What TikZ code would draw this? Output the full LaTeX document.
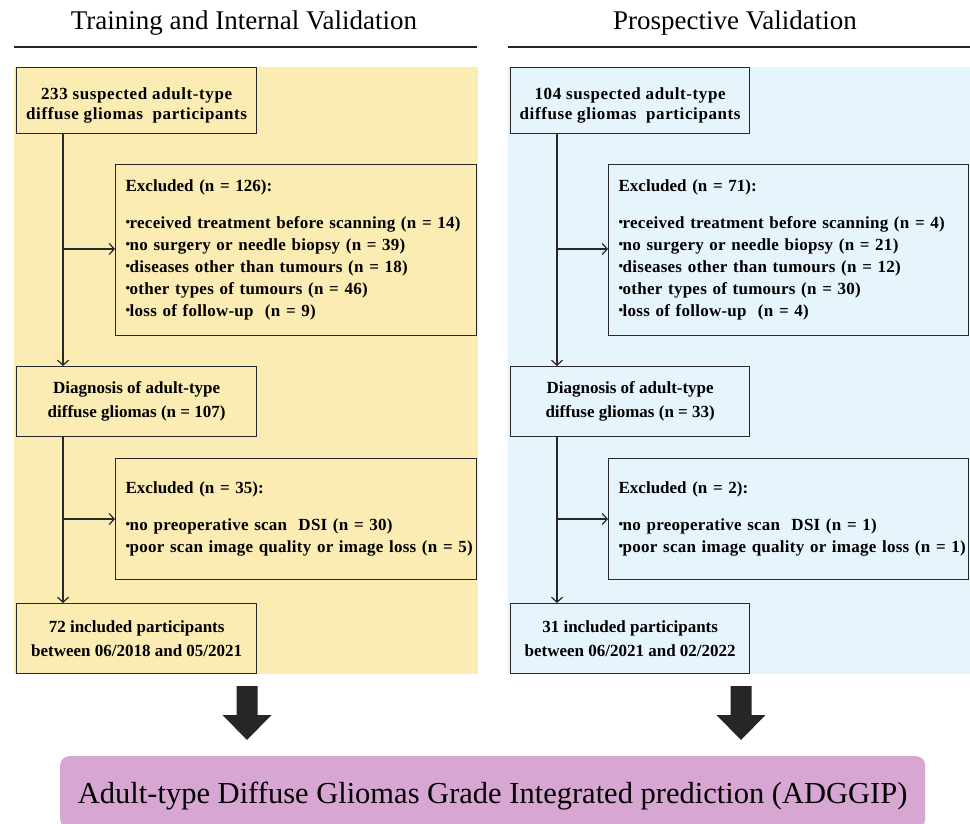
\documentclass[tikz,border=0pt]{standalone}
\usepackage{fontspec}
\setmainfont{Liberation Serif}
\usetikzlibrary{arrows.meta}
\definecolor{ybg}{RGB}{250,236,178}
\definecolor{bbg}{RGB}{230,244,252}
\definecolor{pbg}{RGB}{216,166,210}
\definecolor{edge}{RGB}{40,40,40}
\definecolor{bigarrow}{RGB}{38,38,38}
\newcommand{\bul}{{\raisebox{2.6pt}{\fontsize{13}{13}\selectfont\textbullet}\kern-0.5pt}}
\newcommand{\exline}[1]{\mbox{\addfontfeature{LetterSpace=1.5}\bul #1}}
\begin{document}
\begin{tikzpicture}[x=1pt,y=-1pt,
  title/.style={font=\fontsize{27}{30}\selectfont, inner sep=0pt},
  rule/.style={line width=1.4pt, draw=black!85},
  box/.style={draw=edge, line width=1.3pt, align=center, inner sep=0pt,
    font=\bfseries\fontsize{17}{24}\selectfont, anchor=north west},
  firstbox/.style={box, font=\bfseries\fontsize{17}{20}\selectfont\addfontfeature{LetterSpace=3.5}},
  exbox/.style={draw=edge, line width=1.3pt, align=left, inner xsep=10pt, inner ysep=0pt,
    font=\bfseries\fontsize{17}{22}\selectfont, anchor=north west},
  link/.style={draw=edge, line width=1.2pt},
  arr/.style={link, -{Straight Barb[length=5pt,width=11pt,line width=1.2pt]}},
  fat/.style={draw=none, fill=bigarrow},
  final/.style={fill=pbg, rounded corners=9pt, inner sep=0pt, minimum width=865pt,
    minimum height=72pt, anchor=north west, font=\fontsize{30.5}{34}\selectfont}
]
\useasboundingbox (0,0) rectangle (970,824);
% panels
\fill[ybg] (14,67) rectangle (478,674);
\fill[bbg] (508,67) rectangle (970,674);
% titles
\node[title] (tl) at (244,23) {Training and Internal Validation};
\node[title] (tr) at (735,23) {Prospective Validation};
\draw[rule] (14,47) -- (477,47);
\draw[rule] (508,47) -- (970,47);

% ---------- left column ----------
\node[firstbox, minimum width=240pt, minimum height=66pt] (a1) at (16,67)
  {\rule{0pt}{22pt}233 suspected adult-type\\diffuse gliomas\ \ participants};
\node[exbox, minimum width=361pt, minimum height=171pt, text width=341pt] (e1) at (115,164)
  {Excluded (n = 126):\\[15pt]
   \exline{received treatment before scanning (n = 14)}\\
   \exline{no surgery or needle biopsy (n = 39)}\\
   \exline{diseases other than tumours (n = 18)}\\
   \exline{other types of tumours (n = 46)}\\
   \exline{loss of follow-up\ \ (n = 9)}};
\node[box, minimum width=240pt, minimum height=70pt] (a2) at (16,366)
  {Diagnosis of adult-type\\diffuse gliomas (n = 107)};
\node[exbox, minimum width=361pt, minimum height=121pt, text width=341pt] (e2) at (115,458)
  {Excluded (n = 35):\\[15pt]
   \exline{no preoperative scan\ \ DSI (n = 30)}\\
   \exline{poor scan image quality or image loss (n = 5)}};
\node[box, minimum width=240pt, minimum height=70pt] (a3) at (16,603)
  {72 included participants\\between 06/2018 and 05/2021};
\coordinate (jl1) at (63,249);
\coordinate (jl2) at (63,519);
\draw[arr] (a1.south -| jl1) -- (a2.north -| jl1);
\draw[arr] (jl1) -- (e1.west |- jl1);
\draw[arr] (a2.south -| jl2) -- (a3.north -| jl2);
\draw[arr] (jl2) -- (e2.west |- jl2);

% ---------- right column ----------
\node[firstbox, minimum width=239pt, minimum height=66pt] (b1) at (510,67)
  {\rule{0pt}{22pt}104 suspected adult-type\\diffuse gliomas\ \ participants};
\node[exbox, minimum width=360pt, minimum height=171pt, text width=340pt] (f1) at (608,164)
  {Excluded (n = 71):\\[15pt]
   \exline{received treatment before scanning (n = 4)}\\
   \exline{no surgery or needle biopsy (n = 21)}\\
   \exline{diseases other than tumours (n = 12)}\\
   \exline{other types of tumours (n = 30)}\\
   \exline{loss of follow-up\ \ (n = 4)}};
\node[box, minimum width=239pt, minimum height=70pt] (b2) at (510,366)
  {Diagnosis of adult-type\\diffuse gliomas (n = 33)};
\node[exbox, minimum width=360pt, minimum height=121pt, text width=340pt] (f2) at (608,458)
  {Excluded (n = 2):\\[15pt]
   \exline{no preoperative scan\ \ DSI (n = 1)}\\
   \exline{poor scan image quality or image loss (n = 1)}};
\node[box, minimum width=239pt, minimum height=70pt] (b3) at (510,603)
  {31 included participants\\between 06/2021 and 02/2022};
\coordinate (jr1) at (557,249);
\coordinate (jr2) at (557,519);
\draw[arr] (b1.south -| jr1) -- (b2.north -| jr1);
\draw[arr] (jr1) -- (f1.west |- jr1);
\draw[arr] (b2.south -| jr2) -- (b3.north -| jr2);
\draw[arr] (jr2) -- (f2.west |- jr2);

% ---------- bottom ----------
\node[final] (p) at (60,756)
  {\rule{0pt}{30pt}Adult-type Diffuse Gliomas Grade Integrated prediction (ADGGIP)};
\fill[fat] (236.5,686) -- (257.5,686) -- (257.5,715) -- (271.5,715) -- (247,740)
  -- (222.5,715) -- (236.5,715) -- cycle;
\fill[fat] (730.5,686) -- (751.5,686) -- (751.5,715) -- (765.5,715) -- (741,740)
  -- (716.5,715) -- (730.5,715) -- cycle;
\end{tikzpicture}
\end{document}
